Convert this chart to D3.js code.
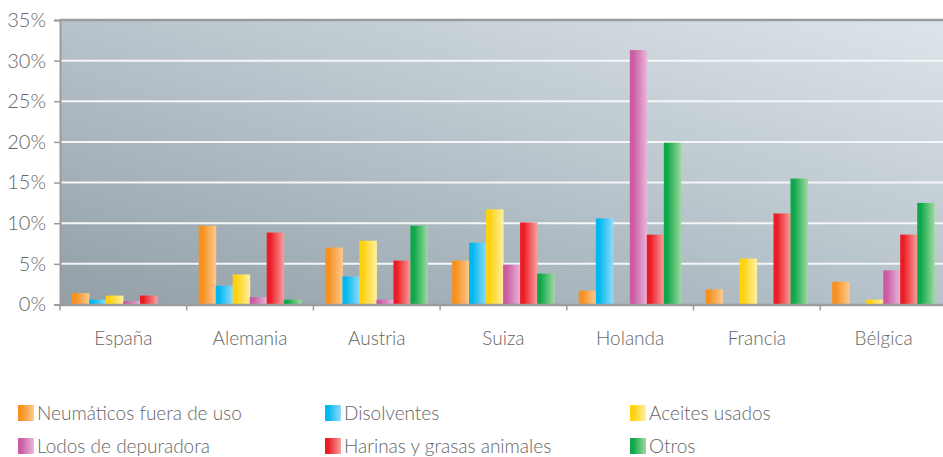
<!DOCTYPE html>
<html>
<head>
<meta charset="utf-8">
<script src="https://cdn.jsdelivr.net/npm/d3@7"></script>
<style>
  html, body { margin: 0; padding: 0; background: #fff; }
  svg { display: block; }
  text { font-family: Lato, "Open Sans", sans-serif; font-weight: 300; fill: #666; }
</style>
</head>
<body>
<svg id="chart" width="943" height="457"></svg>
<script>
const categories = ["España", "Alemania", "Austria", "Suiza", "Holanda", "Francia", "Bélgica"];
const seriesNames = ["Neumáticos fuera de uso", "Disolventes", "Aceites usados", "Lodos de depuradora", "Harinas y grasas animales", "Otros"];
const neumaticos = [1.4, 9.7, 7.0, 5.4, 1.7, 1.85, 2.8];
const disolventes = [0.6, 2.3, 3.45, 7.6, 10.6, 0, 0];
const aceites = [1.1, 3.7, 7.85, 11.7, 0, 5.65, 0.6];
const lodos = [0.4, 0.9, 0.6, 4.9, 31.3, 0, 4.2];
const harinas = [1.1, 8.85, 5.4, 10.1, 8.6, 11.2, 8.6];
const otros = [0, 0.6, 9.7, 3.8, 19.9, 15.5, 12.5];
const yTicks = [0, 5, 10, 15, 20, 25, 30, 35];
const seriesColors = [
  ["#f7901e", "#fdca92"],
  ["#00b8f0", "#94dbf8"],
  ["#ffd20f", "#fff0a2"],
  ["#cb5ca4", "#e9b8da"],
  ["#ec1c24", "#f7a2a0"],
  ["#0ea84a", "#a0d9a0"]
];
const seriesValues = [neumaticos, disolventes, aceites, lodos, harinas, otros];

const svg = d3.select("#chart");
const m = { left: 60, top: 20, bottom: 304.5 };
const groupW = 126.7;
const plotRight = m.left + groupW * categories.length;

const y = d3.scaleLinear().domain([0, 35]).range([m.bottom, m.top]);
const x0 = d3.scaleBand().domain(categories).range([m.left, plotRight]).padding(0);
const x1 = d3.scaleBand().domain(seriesNames).range([12, groupW - 12.7]).padding(0);

const defs = svg.append("defs");
const bg = defs.append("linearGradient").attr("id", "bg")
  .attr("x1", 0).attr("y1", 1).attr("x2", 1).attr("y2", 0);
bg.append("stop").attr("offset", 0).attr("stop-color", "#939fa7");
bg.append("stop").attr("offset", 0.5).attr("stop-color", "#b7c3ca");
bg.append("stop").attr("offset", 1).attr("stop-color", "#dde5ea");

seriesColors.forEach((c, i) => {
  const g = defs.append("linearGradient").attr("id", "g" + i)
    .attr("x1", 0).attr("y1", 0).attr("x2", 1).attr("y2", 0);
  g.append("stop").attr("offset", 0).attr("stop-color", c[0]);
  g.append("stop").attr("offset", 0.2).attr("stop-color", c[0]);
  g.append("stop").attr("offset", 1).attr("stop-color", c[1]);
});

// background
svg.append("rect")
  .attr("x", m.left).attr("y", m.top)
  .attr("width", plotRight - m.left).attr("height", m.bottom - m.top)
  .attr("fill", "url(#bg)");

// gridlines
svg.append("g").selectAll("line")
  .data(yTicks.filter(t => t > 0 && t < 35))
  .join("line")
  .attr("x1", m.left).attr("x2", plotRight)
  .attr("y1", d => y(d)).attr("y2", d => y(d))
  .attr("stroke", "#f4f6f7").attr("stroke-width", 2);

// bars
const groups = svg.append("g").selectAll("g")
  .data(categories)
  .join("g")
  .attr("transform", d => `translate(${x0(d)},0)`);

groups.selectAll("rect")
  .data((d, ci) => seriesNames.map((s, si) => ({ s, si, v: seriesValues[si][ci] })))
  .join("rect")
  .attr("x", d => x1(d.s))
  .attr("width", x1.bandwidth() + 0.5)
  .attr("y", d => y(d.v))
  .attr("height", d => y(0) - y(d.v))
  .attr("fill", d => `url(#g${d.si})`);

// top border
svg.append("line")
  .attr("x1", m.left).attr("x2", plotRight)
  .attr("y1", m.top).attr("y2", m.top)
  .attr("stroke", "#9b9b9f").attr("stroke-width", 2.5);

// y axis
const yAxis = svg.append("g")
  .attr("transform", `translate(${m.left},0)`)
  .call(d3.axisLeft(y).tickValues(yTicks).tickFormat(d => d + "%").tickSize(6).tickPadding(8));
yAxis.select(".domain").attr("stroke", "#9b9b9f").attr("stroke-width", 2);
yAxis.selectAll(".tick line").attr("stroke", "#9b9b9f").attr("stroke-width", 1.5);
yAxis.selectAll(".tick text")
  .attr("font-size", 20).attr("fill", "#6a6a6a")
  .style("font-family", "Lato, sans-serif").style("font-weight", 300);

// x axis
const xAxis = svg.append("g")
  .attr("transform", `translate(0,${m.bottom})`)
  .call(d3.axisBottom(x0).tickSize(0).tickPadding(27));
xAxis.select(".domain").attr("stroke", "#9b9b9f").attr("stroke-width", 2.5);
xAxis.selectAll(".tick text")
  .attr("font-size", 19).attr("fill", "#6a6a6a")
  .style("font-family", "Lato, sans-serif").style("font-weight", 300);
// group boundary ticks
svg.append("g").selectAll("line")
  .data(categories)
  .join("line")
  .attr("x1", d => x0(d)).attr("x2", d => x0(d))
  .attr("y1", m.bottom).attr("y2", m.bottom + 6)
  .attr("stroke", "#9b9b9f").attr("stroke-width", 1.5);

// legend
const legendPos = [[18, 405], [325, 405], [630, 405], [18, 438], [325, 438], [630, 438]];
const leg = svg.append("g").selectAll("g")
  .data(seriesNames)
  .join("g")
  .attr("transform", (d, i) => `translate(${legendPos[i][0]},${legendPos[i][1]})`);
leg.append("rect").attr("width", 16).attr("height", 16)
  .attr("fill", (d, i) => `url(#g${i})`);
leg.append("text").attr("x", 19).attr("y", 15)
  .attr("font-size", 19).attr("fill", "#6a6a6a")
  .text(d => d);
</script>
</body>
</html>
